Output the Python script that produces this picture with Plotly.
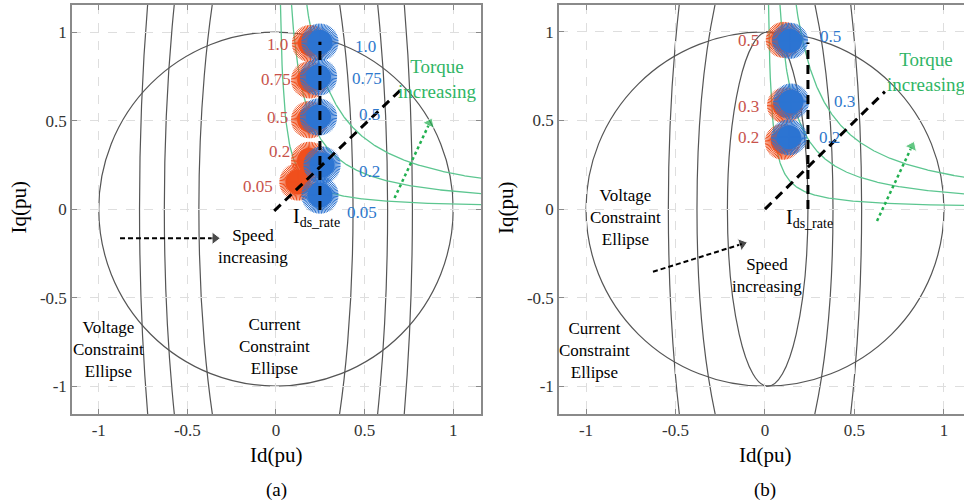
import numpy as np
import plotly.graph_objects as go

# ---------------- data ----------------
tick_vals = [-1, -0.5, 0, 0.5, 1]
tick_text = ["-1", "-0.5", "0", "0.5", "1"]

current_radius = 1.0

# voltage constraint ellipses: semi-axis along Id, semi-axis along Iq, centre Id
volt_a_semi_d = [0.435, 0.63, 0.77]
volt_a_semi_q = [2.05, 2.8, 3.4]
volt_a_centre = [0.0, 0.0, 0.0]
volt_b_semi_d = [0.225, 0.38, 0.54]
volt_b_semi_q = [1.0, 1.7, 2.5]
volt_b_centre = [0.015, 0.0, 0.0]

# constant torque hyperbolae Iq = k / Id
torque_k_a = [0.028, 0.10, 0.20]
torque_k_b = [0.022, 0.095, 0.20]

# operating-point clouds, panel (a)
levels_a = ["1.0", "0.75", "0.5", "0.2", "0.05"]
blue_a_id = [0.248, 0.240, 0.240, 0.260, 0.248]
blue_a_iq = [0.943, 0.746, 0.520, 0.249, 0.079]
orange_a_id = [0.195, 0.190, 0.190, 0.190, 0.124]
orange_a_iq = [0.935, 0.730, 0.505, 0.275, 0.153]
# label anchors panel (a)
red_lab_a_id = [0.079, 0.096, 0.079, 0.090, -0.006]
red_lab_a_iq = [0.931, 0.734, 0.519, 0.327, 0.130]
blue_lab_a_id = [0.435, 0.418, 0.457, 0.457, 0.389]
blue_lab_a_iq = [0.920, 0.739, 0.536, 0.214, -0.017]

# operating-point clouds, panel (b)
levels_b = ["0.5", "0.3", "0.2"]
blue_b_id = [0.140, 0.146, 0.134]
blue_b_iq = [0.950, 0.607, 0.405]
orange_b_id = [0.105, 0.112, 0.100]
orange_b_iq = [0.955, 0.585, 0.380]
red_lab_b_id = [-0.022, -0.022, -0.022]
red_lab_b_iq = [0.949, 0.579, 0.404]
blue_lab_b_id = [0.296, 0.374, 0.291]
blue_lab_b_iq = [0.972, 0.607, 0.404]

# rated d-current line and MTPA-like diagonal
id_rate_a = [0.248, 0.248]
iq_rate_a = [-0.005, 0.945]
id_rate_b = [0.240, 0.240]
iq_rate_b = [0.0, 0.940]
diag_a_id = [-0.01, 0.70]
diag_a_iq = [-0.01, 0.67]
diag_b_id = [0.0, 0.67]
diag_b_iq = [0.0, 0.663]

# arrows
speed_a_id = [-0.880, -0.345]
speed_a_iq = [-0.165, -0.165]
speed_b_id = [-0.626, -0.128]
speed_b_iq = [-0.354, -0.197]
torq_a_id = [0.669, 0.867]
torq_a_iq = [0.062, 0.486]
torq_b_id = [0.626, 0.821]
torq_b_iq = [-0.067, 0.354]

# ---------------- style ----------------
FONT = "'Liberation Serif', 'Times New Roman', Tinos, 'DejaVu Serif', serif"
BLUE = "#2c74d2"
ORANGE = "#f04f1c"
RED_TXT = "#c8524a"
BLUE_TXT = "#2e78cc"
GREEN = "#5cc690"
GREEN_TXT = "#2fb565"
CURVE = "#555555"
AXIS = "#8a8a8a"

fig = go.Figure()


def add_blob(xs, ys, color, size, xa, ya):
    fig.add_trace(go.Scatter(x=xs, y=ys, mode="markers", xaxis=xa, yaxis=ya,
                             marker=dict(symbol="circle", size=size, color=color,
                                         line=dict(width=0)),
                             hoverinfo="skip", showlegend=False))
    for ang in range(0, 45, 5):
        fig.add_trace(go.Scatter(x=xs, y=ys, mode="markers", xaxis=xa, yaxis=ya,
                                 marker=dict(symbol="asterisk-open", size=size + 6,
                                             angle=ang, color=color,
                                             line=dict(width=1.0, color=color)),
                                 hoverinfo="skip", showlegend=False))


def add_panel(xa, ya, ks, semi_d, semi_q, centre,
              b_id, b_iq, o_id, o_iq, rate_id, rate_iq, dg_id, dg_iq,
              sp_id, sp_iq, tq_id, tq_iq, blob_size):
    xref = "x" if xa == "x" else "x2"
    yref = "y" if ya == "y" else "y2"
    fig.add_shape(type="circle", xref=xref, yref=yref,
                  x0=-current_radius, x1=current_radius,
                  y0=-current_radius, y1=current_radius,
                  line=dict(color=CURVE, width=1.2), layer="below")
    for a, b, c in zip(semi_d, semi_q, centre):
        fig.add_shape(type="circle", xref=xref, yref=yref,
                      x0=c - a, x1=c + a, y0=-b, y1=b,
                      line=dict(color=CURVE, width=1.2), layer="below")
    for k in ks:
        idv = np.linspace(k / 1.3, 1.3, 400)
        fig.add_trace(go.Scatter(x=idv, y=k / idv, mode="lines", xaxis=xa, yaxis=ya,
                                 line=dict(color=GREEN, width=1.3),
                                 hoverinfo="skip", showlegend=False))
    add_blob(o_id, o_iq, ORANGE, blob_size, xa, ya)
    add_blob(b_id, b_iq, BLUE, blob_size, xa, ya)
    for xs, ys in [(rate_id, rate_iq), (dg_id, dg_iq)]:
        fig.add_trace(go.Scatter(x=xs, y=ys, mode="lines", xaxis=xa, yaxis=ya,
                                 line=dict(color="black", width=3, dash="9px,6px"),
                                 hoverinfo="skip", showlegend=False))
    fig.add_trace(go.Scatter(x=sp_id, y=sp_iq, mode="lines+markers", xaxis=xa, yaxis=ya,
                             line=dict(color="black", width=2, dash="5px,3px"),
                             marker=dict(symbol="triangle-up", size=[0, 11],
                                         angleref="previous", color="black"),
                             hoverinfo="skip", showlegend=False))
    fig.add_trace(go.Scatter(x=tq_id, y=tq_iq, mode="lines+markers", xaxis=xa, yaxis=ya,
                             line=dict(color="#22b050", width=2.5, dash="3px,3px"),
                             marker=dict(symbol="triangle-up", size=[0, 11],
                                         angleref="previous", color="#22b050"),
                             hoverinfo="skip", showlegend=False))


add_panel("x", "y", torque_k_a, volt_a_semi_d, volt_a_semi_q, volt_a_centre,
          blue_a_id, blue_a_iq, orange_a_id, orange_a_iq,
          id_rate_a, iq_rate_a, diag_a_id, diag_a_iq,
          speed_a_id, speed_a_iq, torq_a_id, torq_a_iq, 25)
add_panel("x2", "y2", torque_k_b, volt_b_semi_d, volt_b_semi_q, volt_b_centre,
          blue_b_id, blue_b_iq, orange_b_id, orange_b_iq,
          id_rate_b, iq_rate_b, diag_b_id, diag_b_iq,
          speed_b_id, speed_b_iq, torq_b_id, torq_b_iq, 24)

annotations = []


def txt(x, y, text, xref, yref, color="black", size=17, xanchor="center", yanchor="middle"):
    annotations.append(dict(x=x, y=y, xref=xref, yref=yref, text=text, showarrow=False,
                            font=dict(family=FONT, size=size, color=color),
                            xanchor=xanchor, yanchor=yanchor, align="center"))


for t, x, y in zip(levels_a, red_lab_a_id, red_lab_a_iq):
    txt(x, y, t, "x", "y", RED_TXT, 17, "right")
for t, x, y in zip(levels_a, blue_lab_a_id, blue_lab_a_iq):
    txt(x, y, t, "x", "y", BLUE_TXT, 17, "left")
for t, x, y in zip(levels_b, red_lab_b_id, red_lab_b_iq):
    txt(x, y, t, "x2", "y2", RED_TXT, 17, "right")
for t, x, y in zip(levels_b, blue_lab_b_id, blue_lab_b_iq):
    txt(x, y, t, "x2", "y2", BLUE_TXT, 17, "left")

txt(-0.943, -0.796, "Voltage<br>Constraint<br>Ellipse", "x", "y")
txt(-0.006, -0.779, "Current<br>Constraint<br>Ellipse", "x", "y")
txt(-0.130, -0.209, "Speed<br>increasing", "x", "y")
txt(0.909, 0.734, "Torque<br>increasing", "x", "y", GREEN_TXT, 19)
txt(0.231, -0.045, "I<sub>ds_rate</sub>", "x", "y", "black", 20)
txt(-0.782, -0.045, "Voltage<br>Constraint<br>Ellipse", "x2", "y2")
txt(-0.950, -0.798, "Current<br>Constraint<br>Ellipse", "x2", "y2")
txt(0.011, -0.376, "Speed<br>increasing", "x2", "y2")
txt(0.905, 0.775, "Torque<br>increasing", "x2", "y2", GREEN_TXT, 19)
txt(0.251, -0.056, "I<sub>ds_rate</sub>", "x2", "y2", "black", 20)

for xc, cap in [(276 / 964, "(a)"), (765 / 964, "(b)")]:
    txt(xc, 1 - 455 / 504, "Id(pu)", "paper", "paper", "black", 21)
    txt(xc, 1 - 490 / 504, cap, "paper", "paper", "black", 19)
for xc in [18.5 / 964, 506 / 964]:
    annotations.append(dict(x=xc, y=1 - 208 / 504, xref="paper", yref="paper",
                            text="Iq(pu)", showarrow=False, textangle=-90,
                            font=dict(family=FONT, size=21, color="black"),
                            xanchor="center", yanchor="middle"))

ax_common = dict(tickmode="array", tickvals=tick_vals, ticktext=tick_text,
                 ticks="inside", ticklen=5, tickcolor=AXIS, tickwidth=1,
                 showline=True, linecolor=AXIS, linewidth=1.5,
                 showgrid=True, gridcolor="#dedede", gridwidth=1, griddash="dash",
                 zeroline=False, tickfont=dict(family=FONT, size=17, color="#333333"),
                 fixedrange=True)

ydom = [(504 - 414) / 504, (504 - 5) / 504]
fig.update_layout(
    width=964, height=504, margin=dict(l=0, r=0, t=0, b=0),
    paper_bgcolor="white", plot_bgcolor="white", showlegend=False,
    font=dict(family=FONT),
    xaxis=dict(domain=[72 / 964, 481 / 964], range=[-1.151, 1.157], anchor="y",
               mirror="ticks", **ax_common),
    yaxis=dict(domain=ydom, range=[-1.158, 1.153], anchor="x",
               mirror="ticks", **ax_common),
    xaxis2=dict(domain=[559 / 964, 1.0], range=[-1.151, 1.112], anchor="y2",
                mirror="ticks", **ax_common),
    yaxis2=dict(domain=ydom, range=[-1.157, 1.152], anchor="x2",
                mirror=False, **ax_common),
    annotations=annotations,
)

fig.write_html("out.html")
